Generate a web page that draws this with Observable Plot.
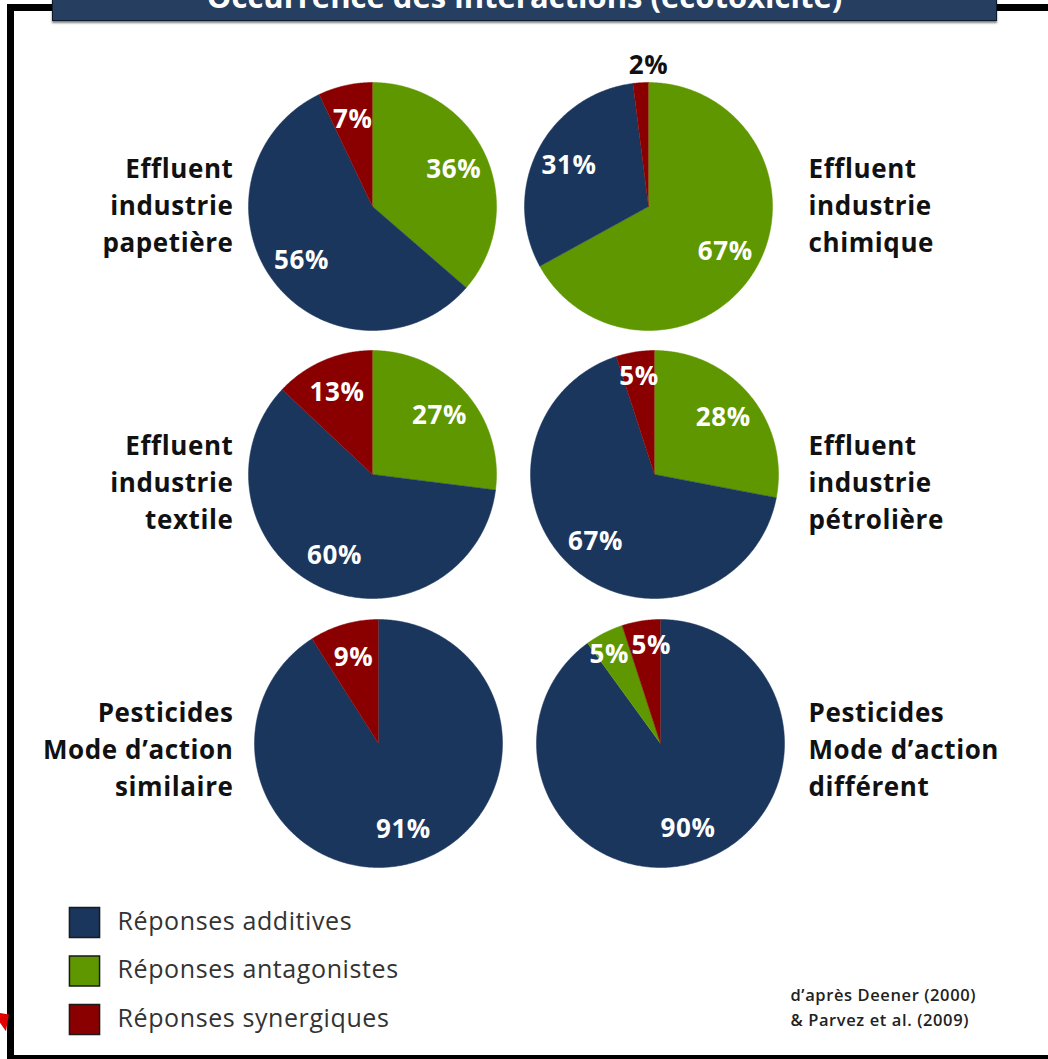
<!DOCTYPE html>
<html>
<head>
<meta charset="utf-8">
<script src="https://cdn.jsdelivr.net/npm/d3@7"></script>
<script src="https://cdn.jsdelivr.net/npm/@observablehq/plot@0.6"></script>
<style>
html, body { margin: 0; padding: 0; background: #fff; }
#wrap { position: relative; width: 1048px; height: 1059px; overflow: hidden; font-family: "Open Sans", sans-serif; }
#chart { position: absolute; left: 0; top: 0; }
#chart text { letter-spacing: 0.6px; }
.frame { position: absolute; background: #000; }
#banner { position: absolute; left: 52px; top: -2px; width: 943px; height: 21px; background: #263f60; border: 1px solid #0d1a2c; box-shadow: 0 2px 2px rgba(0,0,0,0.5); overflow: hidden; }
#banner span { position: absolute; left: 0; right: 0; text-align: center; top: -23px; color: #fff; font-weight: 700; font-size: 31px; line-height: 40px; white-space: nowrap; }
#arrow { position: absolute; left: -2px; top: 1006px; width: 0; height: 0; border-top: 12px solid transparent; border-bottom: 12px solid transparent; border-left: 12px solid #e00000; transform: rotate(-35deg); }
</style>
</head>
<body>
<div id="wrap">
  <div id="chart"></div>
  <div class="frame" style="left:7px;top:4px;width:7px;height:1054px;"></div>
  <div class="frame" style="left:7px;top:4px;width:46px;height:7px;"></div>
  <div class="frame" style="left:994px;top:4px;width:54px;height:7px;"></div>
  <div class="frame" style="left:7px;top:1055px;width:1041px;height:4px;"></div>
  <div id="banner"><span id="title"></span></div>
  <div id="arrow"></div>
</div>
<script>
// ---- data ----
const title = "Occurrence des interactions (écotoxicité)";
const pieNames = [
  "Effluent\nindustrie\npapetière",
  "Effluent\nindustrie\nchimique",
  "Effluent\nindustrie\ntextile",
  "Effluent\nindustrie\npétrolière",
  "Pesticides\nMode d’action\nsimilaire",
  "Pesticides\nMode d’action\ndifférent"
];
const categories = ["Réponses additives", "Réponses antagonistes", "Réponses synergiques"];
const additives    = [56, 31, 60, 67, 91, 90];
const antagonistes = [36, 67, 27, 28, 0, 5];
const synergiques  = [7, 2, 13, 5, 9, 5];
// clockwise order of slices starting at 12 o'clock
const sliceOrder = [
  ["Réponses antagonistes", "Réponses additives", "Réponses synergiques"],
  ["Réponses antagonistes", "Réponses additives", "Réponses synergiques"],
  ["Réponses antagonistes", "Réponses additives", "Réponses synergiques"],
  ["Réponses antagonistes", "Réponses additives", "Réponses synergiques"],
  ["Réponses antagonistes", "Réponses additives", "Réponses synergiques"],
  ["Réponses additives", "Réponses antagonistes", "Réponses synergiques"]
];
const captionLines = ["d’après Deener (2000)", "& Parvez et al. (2009)"];

// ---- style / layout ----
const colors = ["#1b365d", "#5e9700", "#8a0000"];
const R = 124;
const centers = [[372, 206], [648, 206], [372, 474], [654, 474], [378, 743], [660, 743]];
const nameY = [203, 480, 747];
const FONT = "Open Sans";

document.getElementById("title").textContent = title;

// ---- build slice polygons from the values ----
const slicePts = [];
const labels = [];
pieNames.forEach((name, i) => {
  const vals = {
    "Réponses additives": additives[i],
    "Réponses antagonistes": antagonistes[i],
    "Réponses synergiques": synergiques[i]
  };
  const total = d3.sum(Object.values(vals));
  const [cx, cy] = centers[i];
  let acc = 0;
  const pieLabels = [];
  sliceOrder[i].forEach(cat => {
    const v = vals[cat];
    if (!v) return;
    const a0 = acc / total * 2 * Math.PI;
    const a1 = (acc + v) / total * 2 * Math.PI;
    acc += v;
    const id = i + "-" + cat;
    slicePts.push({id, cat, x: cx, y: cy});
    const n = Math.max(2, Math.ceil((a1 - a0) / 0.01));
    for (let k = 0; k <= n; ++k) {
      const t = a0 + (a1 - a0) * k / n;
      slicePts.push({id, cat, x: cx + R * Math.sin(t), y: cy - R * Math.cos(t)});
    }
    const mid = (a0 + a1) / 2;
    const share = v / total;
    const outside = share < 0.03;
    const rr = outside ? R + 17 : share <= 0.06 ? R * 0.8 : R * 0.72;
    pieLabels.push({
      x: outside ? cx : cx + rr * Math.sin(mid),
      y: cy - rr * Math.cos(mid),
      text: v + "%",
      fill: outside ? "#111" : "#fff"
    });
  });
  // simple collision pass: push overlapping labels apart horizontally
  for (let a = 0; a < pieLabels.length; ++a) {
    for (let b = a + 1; b < pieLabels.length; ++b) {
      const A = pieLabels[a], B = pieLabels[b];
      const dx = B.x - A.x, dy = B.y - A.y;
      if (Math.abs(dy) < 26 && Math.abs(dx) < 42) {
        const push = (42 - Math.abs(dx)) / 2 * (dx >= 0 ? 1 : -1);
        A.x -= push; B.x += push;
      }
    }
  }
  labels.push(...pieLabels);
});

const chart = Plot.plot({
  width: 1048,
  height: 1059,
  margin: 0,
  axis: null,
  style: {fontFamily: FONT, background: "transparent"},
  x: {type: "identity", axis: null},
  y: {type: "identity", axis: null},
  color: {domain: categories, range: colors},
  marks: [
    Plot.line(slicePts, {x: "x", y: "y", z: "id", fill: "cat", stroke: "cat", strokeWidth: 0.5, curve: "linear"}),
    Plot.text(labels, {x: "x", y: "y", text: "text", fill: "fill", fontSize: 26, fontWeight: "bold"}),
    Plot.text(pieNames, {
      filter: (d, i) => i % 2 === 0,
      x: 233, y: (d, i) => nameY[Math.floor(i / 2)],
      text: d => d, textAnchor: "end", lineAnchor: "middle", lineHeight: 1.42,
      fontSize: 26, fontWeight: "bold", fill: "#111"
    }),
    Plot.text(pieNames, {
      filter: (d, i) => i % 2 === 1,
      x: 808, y: (d, i) => nameY[Math.floor(i / 2)],
      text: d => d, textAnchor: "start", lineAnchor: "middle", lineHeight: 1.42,
      fontSize: 26, fontWeight: "bold", fill: "#111"
    }),
    Plot.dot(categories, {x: 84, y: (d, i) => 922 + i * 48.5, symbol: "square", r: 17, fill: d => d, stroke: "#1a1a1a", strokeWidth: 1.5}),
    Plot.text(categories, {x: 117, y: (d, i) => 921 + i * 48.5, text: d => d, textAnchor: "start", fontSize: 25, fill: "#333"}),
    Plot.text(captionLines, {x: 790, y: (d, i) => 995 + i * 25, text: d => d, textAnchor: "start", fontSize: 16.5, fontWeight: 600, fill: "#222"})
  ]
});
document.getElementById("chart").appendChild(chart);
</script>
</body>
</html>
